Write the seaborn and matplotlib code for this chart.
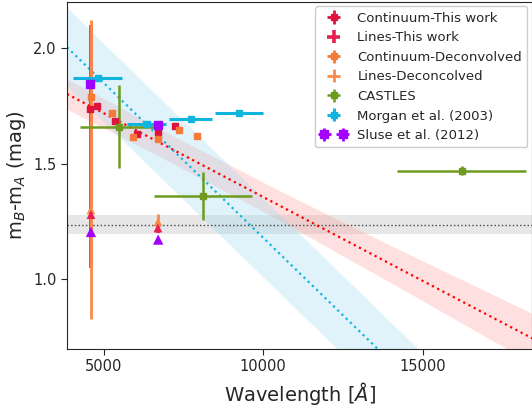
import numpy as np
import matplotlib
matplotlib.use('Agg')
import matplotlib.pyplot as plt
import seaborn as sns
from matplotlib.legend_handler import HandlerErrorbar

# Continuum - this work
cont_this_x = [4577, 4805, 5360, 6040, 6718, 7240]
cont_this_y = [1.734, 1.748, 1.684, 1.627, 1.632, 1.662]

# Lines - this work (asymmetric errors: lower, upper)
lines_this_x = [4600, 6700]
lines_this_y = [1.280, 1.222]
lines_this_elo = [0.23, 0.02]
lines_this_ehi = [0.82, 0.03]

# Continuum - deconvolved
cont_dec_x = [4586, 5257, 5903, 6687, 7367, 7922]
cont_dec_y = [1.788, 1.718, 1.617, 1.608, 1.645, 1.621]

# Lines - deconvolved
lines_dec_x = [4600, 6700]
lines_dec_y = [1.300, 1.248]
lines_dec_elo = [0.47, 0.03]
lines_dec_ehi = [0.82, 0.035]

# CASTLES
castles_x = [5490, 8112, 16227]
castles_y = [1.660, 1.361, 1.469]
castles_xerr = [1228, 1550, 2017]
castles_yerr = [0.18, 0.105, 0.02]

# Morgan et al. (2003)
morgan_x = [4812, 6345, 7727, 9252]
morgan_y = [1.871, 1.671, 1.694, 1.717]
morgan_xerr = [760, 620, 665, 757]

# Sluse et al. (2012)
sluse_cont_x = [4555, 6708]
sluse_cont_y = [1.843, 1.668]
sluse_lines_x = [4600, 6708]
sluse_lines_y = [1.205, 1.172]

# fits
red_fit_x = [3850, 7000, 10500, 14000, 18500]
red_fit_y = [1.801, 1.573, 1.320, 1.066, 0.741]
red_fit_hw = [0.066, 0.060, 0.064, 0.080, 0.108]

cyan_fit_x = [3850, 15000]
cyan_fit_y = [2.003, 0.511]
cyan_fit_hw = [0.17, 0.17]

gray_level = 1.237
gray_hw = 0.043

c_crimson = '#DC143C'
c_lines = '#E8204F'
c_orange = '#F47A3A'
c_orange2 = '#F98B4A'
c_green = '#6E9A1E'
c_cyan = '#11B3DF'
c_purple = '#A200FF'

sns.set_style('ticks')
plt.rcParams['font.family'] = ['DejaVu Sans']

fig, ax = plt.subplots(figsize=(5.32, 4.08), dpi=100)
fig.subplots_adjust(left=0.126, right=1.0, bottom=0.145, top=0.996)

# bands
ax.axhspan(gray_level - gray_hw, gray_level + gray_hw, color='#bbbbbb', alpha=0.35, lw=0, zorder=0)
ax.axhline(gray_level, color='#444444', ls=':', lw=1, zorder=1)

rx = np.array(red_fit_x)
ry = np.array(red_fit_y)
rh = np.array(red_fit_hw)
ax.fill_between(rx, ry - rh, ry + rh, color='#ff9999', alpha=0.3, lw=0, zorder=0)
sns.lineplot(x=rx, y=ry, ax=ax, color='red', ls=':', lw=1.6, zorder=2)

cx = np.array(cyan_fit_x)
cy = np.array(cyan_fit_y)
ch = np.array(cyan_fit_hw)
ax.fill_between(cx, cy - ch, cy + ch, color='#9ad9ef', alpha=0.3, lw=0, zorder=0)
sns.lineplot(x=cx, y=cy, ax=ax, color=c_cyan, ls=':', lw=1.6, zorder=2)

# data
h1 = ax.errorbar(cont_this_x, cont_this_y, xerr=np.zeros(6), yerr=np.zeros(6), fmt='s',
                 color=c_crimson, ms=5, elinewidth=2, label='Continuum-This work', zorder=4)
h2 = ax.errorbar(lines_this_x, lines_this_y, xerr=[0, 0], yerr=[lines_this_elo, lines_this_ehi],
                 fmt='none', ecolor=c_lines, elinewidth=2.6, label='Lines-This work', zorder=3)
h3 = ax.errorbar(cont_dec_x, cont_dec_y, xerr=np.zeros(6), yerr=np.zeros(6), fmt='s',
                 color=c_orange, ms=5, elinewidth=2, label='Continuum-Deconvolved', zorder=4)
h4 = ax.errorbar(lines_dec_x, lines_dec_y, xerr=[0, 0], yerr=[lines_dec_elo, lines_dec_ehi],
                 fmt='none', ecolor=c_orange2, elinewidth=2, label='Lines-Deconcolved', zorder=3)
h5 = ax.errorbar(castles_x, castles_y, xerr=castles_xerr, yerr=castles_yerr, fmt='s',
                 color=c_green, ms=5, elinewidth=1.8, label='CASTLES', zorder=4)
h6 = ax.errorbar(morgan_x, morgan_y, xerr=morgan_xerr, yerr=[0.006] * 4, fmt='s',
                 color=c_cyan, ms=5, elinewidth=2.2, label='Morgan et al. (2003)', zorder=4)
h7 = ax.errorbar(sluse_cont_x, sluse_cont_y, xerr=[0, 0], yerr=[0, 0], fmt='s',
                 color=c_purple, ms=6, elinewidth=2, label='Sluse et al. (2012)', zorder=5)

# triangles for line measurements
sns.scatterplot(x=lines_dec_x, y=lines_dec_y, ax=ax, marker='^', color=c_orange2, s=40,
                edgecolor='none', zorder=5, legend=False)
sns.scatterplot(x=lines_this_x, y=lines_this_y, ax=ax, marker='^', color=c_lines, s=40,
                edgecolor='none', zorder=5, legend=False)
sns.scatterplot(x=sluse_lines_x, y=sluse_lines_y, ax=ax, marker='^', color=c_purple, s=55,
                edgecolor='none', zorder=5, legend=False)

ax.set_xlim(3850, 18430)
ax.set_ylim(0.70, 2.20)
ax.set_xticks([5000, 10000, 15000])
ax.set_yticks([1.0, 1.5, 2.0])
ax.tick_params(labelsize=10.5, direction='out', length=4)
ax.set_xlabel(r'Wavelength [$\AA$]', fontsize=14)
ax.set_ylabel(r'm$_B$-m$_A$ (mag)', fontsize=14)

ax.legend(handles=[h1, h2, h3, h4, h5, h6, h7], loc='upper right', fontsize=9.5,
          handler_map={h7: HandlerErrorbar(numpoints=2)}, handlelength=2.0,
          labelspacing=0.5, borderaxespad=0.35, framealpha=1, edgecolor='#cccccc')

plt.savefig('out.png', dpi=100)
